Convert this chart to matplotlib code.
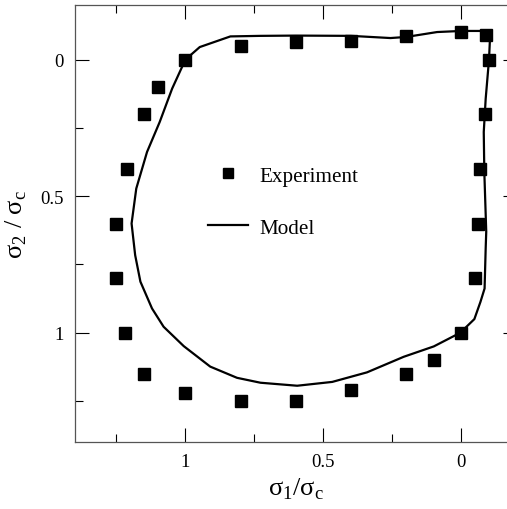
import numpy as np
import matplotlib
matplotlib.use('Agg')
from matplotlib import pyplot as plt

# experiment points (sigma1/sigma_c, sigma2/sigma_c)
exp_s1 = [0.0, -0.09, -0.10, -0.084, -0.069, -0.059, -0.05, 0.0, 0.10, 0.20, 0.40, 0.60,
          0.80, 1.0, 1.15, 1.22, 1.25, 1.25, 1.21, 1.15, 1.10, 1.0, 0.80, 0.60, 0.40, 0.20]
exp_s2 = [-0.10, -0.09, 0.0, 0.20, 0.40, 0.60, 0.80, 1.0, 1.10, 1.15, 1.21, 1.25,
          1.25, 1.22, 1.15, 1.0, 0.80, 0.60, 0.40, 0.20, 0.10, 0.0, -0.049, -0.063, -0.07, -0.085]

# model curve
mod_s1 = [1.0, 0.948, 0.837, 0.728, 0.60, 0.40, 0.257, 0.20, 0.088, 0.0, -0.069, -0.095,
          -0.103, -0.10, -0.088, -0.081, -0.083, -0.09, -0.088, -0.084, -0.069, -0.047, 0.004,
          0.10, 0.209, 0.342, 0.468, 0.595, 0.728, 0.813, 0.91, 1.006, 1.079, 1.121, 1.163,
          1.182, 1.195, 1.178, 1.139, 1.093, 1.048, 1.0]
mod_s2 = [0.0, -0.046, -0.085, -0.087, -0.088, -0.087, -0.079, -0.083, -0.101, -0.105, -0.105, -0.10,
          -0.065, 0.0, 0.143, 0.265, 0.41, 0.63, 0.69, 0.838, 0.887, 0.95, 1.0,
          1.05, 1.088, 1.145, 1.18, 1.194, 1.183, 1.165, 1.124, 1.049, 0.978, 0.911, 0.813,
          0.716, 0.60, 0.472, 0.338, 0.228, 0.106, 0.0]

plt.rcParams['font.family'] = ['Liberation Serif', 'DejaVu Serif']

fig = plt.figure(figsize=(5.07, 5.10), dpi=100)
ax = fig.add_axes([75/507, 1-443/510, 441.6/507, 437/510])

ax.plot(exp_s1, exp_s2, 's', color='black', markersize=8.5, label='Experiment')
ax.plot(mod_s1, mod_s2, '-', color='black', linewidth=1.6, label='Model')

ax.set_xticks([1, 0.5, 0])
ax.set_xticklabels(['1', '0.5', '0'])
ax.set_yticks([0, 0.5, 1])
ax.set_yticklabels(['0', '0.5', '1'])
ax.set_xticks([1.25, 0.75, 0.25, -0.25], minor=True)
ax.set_yticks([-0.25, 0.25, 0.75, 1.25], minor=True)
ax.set_xlim(1.4, -0.2)
ax.set_ylim(1.4, -0.2)
ax.tick_params(which='both', direction='in', top=True, right=True, labelsize=13.5, width=0.8)
ax.tick_params(which='major', length=10, pad=8)
ax.tick_params(which='minor', length=6)
for s in ax.spines.values():
    s.set_color('#555555')
    s.set_linewidth(0.9)

ax.set_xlabel(r'σ$_\mathregular{1}$/σ$_\mathregular{c}$', fontsize=19, labelpad=4)
ax.set_ylabel(r'σ$_\mathregular{2}$ / σ$_\mathregular{c}$', fontsize=19, labelpad=8)

ax.legend(loc='upper left', bbox_to_anchor=(0.258, 0.675), frameon=False, fontsize=15.2,
          numpoints=1, markerscale=0.9, handlelength=1.9, handletextpad=0.52,
          labelspacing=1.52)

fig.savefig('out.png', dpi=100)
print('Done...')
